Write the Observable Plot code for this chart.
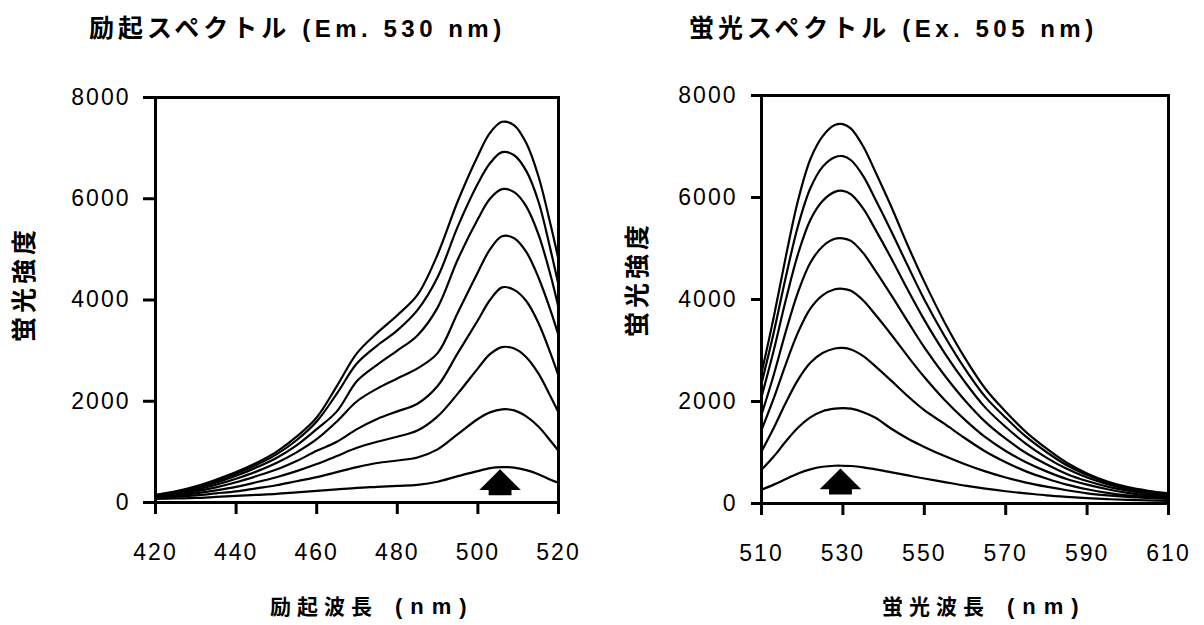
<!DOCTYPE html>
<html>
<head>
<meta charset="utf-8">
<script src="https://cdn.jsdelivr.net/npm/d3@7"></script>
<script src="https://cdn.jsdelivr.net/npm/@observablehq/plot@0.6"></script>
<style>
  html, body { margin: 0; padding: 0; background: #fff; }
  #wrap { position: relative; width: 1204px; height: 625px; background: #fff; overflow: hidden; }
  .title { position: absolute; top: 14px; line-height: 1; white-space: nowrap; color: #000; }
  .jp { font-family: "Noto Sans CJK JP", sans-serif; font-weight: 700; }
  .lat { font-family: "Liberation Sans", Arial, sans-serif; font-weight: 700; }
  .t-jp { font-size: 25px; letter-spacing: 4px; }
  .t-lat { font-size: 24px; letter-spacing: 4.5px; margin-left: 12px; }
  .xl { position: absolute; top: 595px; line-height: 1; white-space: nowrap; }
  .xl-jp { font-size: 21px; letter-spacing: 6px; }
  .xl-lat { font-size: 22px; letter-spacing: 8px; margin-left: 17px; }
  .yl { position: absolute; line-height: 1; white-space: nowrap; font-size: 25px; letter-spacing: 4px;
        transform: translate(-50%, -50%) rotate(-90deg); }
  .plot { position: absolute; top: 80px; }
</style>
</head>
<body>
<div id="wrap">
  <div class="title" style="left:89px"><span class="jp t-jp">励起スペクトル</span><span class="lat t-lat">(Em. 530 nm)</span></div>
  <div class="title" style="left:689px"><span class="jp t-jp">蛍光スペクトル</span><span class="lat t-lat">(Ex. 505 nm)</span></div>
  <div class="yl jp" style="left:22px; top:284px">蛍光強度</div>
  <div class="yl jp" style="left:635px; top:279px">蛍光強度</div>
  <div class="xl" style="left:270px"><span class="jp xl-jp">励起波長</span><span class="lat xl-lat">(nm)</span></div>
  <div class="xl" style="left:882px"><span class="jp xl-jp">蛍光波長</span><span class="lat xl-lat">(nm)</span></div>
  <div id="left" class="plot" style="left:0px"></div>
  <div id="right" class="plot" style="left:605px"></div>
</div>
<script>
// ---- Data ----
const yTicks = [0, 2000, 4000, 6000, 8000];
const exTicks = [420, 440, 460, 480, 500, 520];
const emTicks = [510, 530, 550, 570, 590, 610];

// Excitation spectra (Em. 530 nm)
const exX = [420,425,430,435,440,445,450,455,460,465,470,475,480,485,490,495,500,503,506,509,512,515,518,520];
const ex1 = [150,220,320,450,600,780,1000,1300,1680,2300,2950,3350,3700,4100,4900,5950,6850,7300,7520,7450,7100,6450,5500,4800];
const ex2 = [140,210,300,420,570,740,950,1230,1600,2150,2750,3100,3400,3800,4450,5450,6300,6700,6920,6860,6550,5950,5000,4300];
const ex3 = [130,190,280,390,530,690,880,1130,1450,1800,2400,2720,3000,3300,3850,4800,5600,6000,6190,6130,5850,5300,4500,3850];
const ex4 = [120,170,250,350,470,610,780,990,1250,1600,2000,2250,2450,2650,2950,3750,4550,5000,5260,5220,4950,4450,3800,3300];
const ex5 = [110,150,220,300,400,520,650,820,1020,1200,1450,1650,1800,1950,2300,2950,3600,4000,4250,4200,3980,3550,2950,2500];
const ex6 = [100,130,180,240,310,400,500,620,760,920,1080,1200,1300,1420,1700,2150,2650,2930,3070,3040,2870,2550,2100,1780];
const ex7 = [90,110,140,180,220,280,340,420,500,600,700,780,830,890,1050,1350,1650,1780,1840,1820,1700,1500,1220,1020];
const ex8 = [70,80,90,110,130,150,170,200,230,260,290,310,330,350,410,520,620,680,700,690,640,560,450,390];

// Emission spectra (Ex. 505 nm)
const emX = [510,513,516,519,522,525,528,530,532,535,538,542,546,550,555,560,565,570,575,580,585,590,595,600,605,610];
const em1 = [2550,3650,4850,5950,6750,7200,7420,7440,7350,7000,6500,5800,5050,4350,3550,2850,2250,1800,1400,1080,800,590,430,320,250,200];
const em2 = [2350,3350,4450,5450,6180,6600,6790,6810,6730,6420,5960,5320,4650,4000,3280,2640,2090,1680,1310,1010,750,560,410,300,230,180];
const em3 = [2090,3000,4000,4900,5560,5930,6110,6130,6060,5780,5370,4790,4180,3600,2950,2380,1880,1500,1170,900,680,510,380,280,210,170];
const em4 = [1740,2520,3380,4150,4720,5040,5190,5200,5150,4910,4560,4070,3560,3060,2510,2020,1600,1270,990,770,580,440,330,250,190,150];
const em5 = [1440,2060,2740,3360,3820,4080,4200,4210,4170,3980,3700,3300,2880,2480,2030,1640,1300,1030,810,630,480,370,280,210,160,130];
const em6 = [1020,1480,1980,2430,2760,2950,3040,3050,3020,2890,2690,2400,2100,1830,1560,1280,1020,810,630,490,370,280,210,160,130,110];
const em7 = [660,920,1220,1490,1690,1810,1860,1870,1860,1790,1680,1460,1270,1110,930,770,630,510,410,330,260,200,160,130,110,90];
const em8 = [270,370,480,590,670,720,740,740,735,710,670,610,550,490,420,350,290,240,200,160,130,105,85,70,60,50];

// Arrow annotations (data coordinates)
const exArrow = [{x: 505.5, y: 400}];
const emArrow = [{x: 529.4, y: 430}];

// ---- Helpers ----
function rows(xs, series) {
  return series.flatMap((vals, k) => vals.map((v, i) => ({x: xs[i], y: v, s: k})));
}
const arrowSymbol = {
  draw(ctx, size) {
    const r = Math.sqrt(size / Math.PI);
    ctx.moveTo(0, -r);
    ctx.lineTo(1.6 * r, 0.6 * r);
    ctx.lineTo(0.88 * r, 0.6 * r);
    ctx.lineTo(0.88 * r, r);
    ctx.lineTo(-0.88 * r, r);
    ctx.lineTo(-0.88 * r, 0.6 * r);
    ctx.lineTo(-1.6 * r, 0.6 * r);
    ctx.closePath();
  }
};
const baseStyle = {
  fontFamily: "'Liberation Sans', Arial, sans-serif",
  fontSize: "23px",
  letterSpacing: "2px",
  color: "#000",
  background: "transparent",
  overflow: "visible"
};

function makePlot({xs, series, xDomain, xTicks, arrow, width, marginLeft, marginRight, marginTop, marginBottom, yTickSize, yTickPad}) {
  return Plot.plot({
    width, height: 500,
    marginLeft, marginRight, marginTop, marginBottom,
    style: baseStyle,
    x: {domain: xDomain},
    y: {domain: [0, 8000]},
    marks: [
      Plot.line(rows(xs, series), {x: "x", y: "y", z: "s", stroke: "#000", strokeWidth: 2.2, curve: "catmull-rom"}),
      Plot.dot(arrow, {x: "x", y: "y", r: 13, symbol: arrowSymbol, fill: "#000", stroke: "none"}),
      Plot.frame({stroke: "#000", strokeWidth: 3}),
      Plot.axisX({ticks: xTicks, tickFormat: d => String(d), tickSize: 12, tickPadding: 29, strokeWidth: 3, fontSize: 23, label: null}),
      Plot.axisY({ticks: yTicks, tickFormat: d => String(d), tickSize: yTickSize, tickPadding: yTickPad, strokeWidth: 3, fontSize: 23, label: null})
    ]
  });
}

document.getElementById("left").append(makePlot({
  xs: exX, series: [ex1, ex2, ex3, ex4, ex5, ex6, ex7, ex8],
  xDomain: [420, 520], xTicks: exTicks, arrow: exArrow,
  width: 600, marginLeft: 155, marginRight: 42, marginTop: 17, marginBottom: 78,
  yTickSize: 12, yTickPad: 13
}));
document.getElementById("right").append(makePlot({
  xs: emX, series: [em1, em2, em3, em4, em5, em6, em7, em8],
  xDomain: [510, 610], xTicks: emTicks, arrow: emArrow,
  width: 599, marginLeft: 156, marginRight: 36, marginTop: 15, marginBottom: 77,
  yTickSize: 10, yTickPad: 14
}));
</script>
</body>
</html>
